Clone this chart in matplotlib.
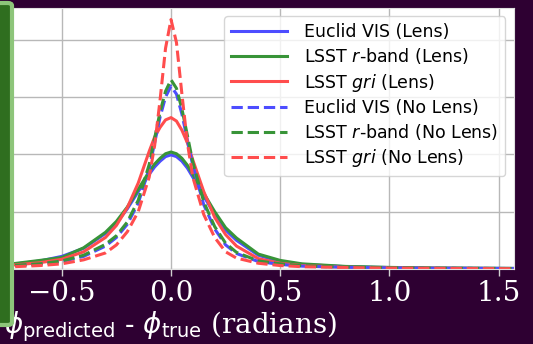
import numpy as np
import matplotlib
matplotlib.use("Agg")
import matplotlib.pyplot as plt
from matplotlib.patches import FancyBboxPatch

# angle error grid (radians) and density curves for each survey
phi_err = [-1.57, -1.2, -0.9, -0.75, -0.6, -0.5, -0.4, -0.3, -0.25, -0.2, -0.15,
           -0.1, -0.075, -0.05, -0.025, 0.0, 0.025, 0.05, 0.075, 0.1, 0.15,
           0.2, 0.25, 0.3, 0.4, 0.5, 0.6, 0.8, 1.0, 1.2, 1.57]

vis_lens = [0.0, 0.01, 0.04, 0.07, 0.14, 0.22, 0.36, 0.62, 0.80, 1.05, 1.35,
            1.65, 1.78, 1.88, 1.96, 1.99, 1.96, 1.88, 1.76, 1.60, 1.27,
            0.95, 0.68, 0.50, 0.24, 0.13, 0.08, 0.04, 0.025, 0.015, 0.01]
r_lens = [0.0, 0.012, 0.045, 0.08, 0.15, 0.20, 0.37, 0.64, 0.83, 1.08, 1.39,
          1.70, 1.83, 1.93, 2.01, 2.04, 2.01, 1.93, 1.81, 1.65, 1.32,
          1.00, 0.72, 0.54, 0.26, 0.15, 0.09, 0.045, 0.028, 0.017, 0.01]
gri_lens = [0.0, 0.008, 0.03, 0.06, 0.11, 0.17, 0.30, 0.55, 0.76, 1.07, 1.50,
            2.05, 2.30, 2.47, 2.60, 2.64, 2.58, 2.42, 2.20, 1.90, 1.35,
            0.90, 0.60, 0.40, 0.18, 0.10, 0.06, 0.03, 0.02, 0.012, 0.008]
vis_nolens = [0.0, 0.008, 0.03, 0.05, 0.08, 0.13, 0.22, 0.40, 0.55, 0.78, 1.15,
              1.75, 2.20, 2.65, 3.00, 3.19, 3.05, 2.70, 2.25, 1.80, 1.12,
              0.70, 0.42, 0.27, 0.13, 0.08, 0.05, 0.03, 0.02, 0.012, 0.008]
r_nolens = [0.0, 0.009, 0.033, 0.055, 0.09, 0.14, 0.24, 0.43, 0.58, 0.82, 1.20,
            1.82, 2.28, 2.74, 3.10, 3.30, 3.15, 2.79, 2.33, 1.86, 1.17,
            0.74, 0.45, 0.29, 0.14, 0.09, 0.055, 0.033, 0.022, 0.013, 0.009]
gri_nolens = [0.0, 0.005, 0.02, 0.035, 0.06, 0.09, 0.16, 0.28, 0.42, 0.65, 1.00,
              1.60, 2.15, 2.95, 3.85, 4.35, 3.95, 3.05, 2.20, 1.60, 0.95,
              0.55, 0.30, 0.19, 0.10, 0.06, 0.04, 0.025, 0.015, 0.01, 0.005]

labels = ["Euclid VIS (Lens)", "LSST $r$-band (Lens)", "LSST $gri$ (Lens)",
          "Euclid VIS (No Lens)", "LSST $r$-band (No Lens)", "LSST $gri$ (No Lens)"]
xticks = [-0.5, 0.0, 0.5, 1.0, 1.5]

bg = "#2e0032"
plt.rcParams["font.family"] = "DejaVu Serif"
plt.rcParams["mathtext.fontset"] = "dejavusans"

fig = plt.figure(figsize=(5.33, 3.44), dpi=100, facecolor=bg)
ax = fig.add_axes([-172 / 533, 75 / 344, 686 / 533, 261.5 / 344])
ax.set_facecolor("white")

blue = (0.30, 0.30, 1.0)
green = (0.22, 0.58, 0.22)
red = (1.0, 0.30, 0.30)
lw = 2.2

ax.plot(phi_err, vis_lens, color=blue, lw=lw, label=labels[0])
ax.plot(phi_err, r_lens, color=green, lw=lw, label=labels[1])
ax.plot(phi_err, gri_lens, color=red, lw=lw, label=labels[2])
ax.plot(phi_err, vis_nolens, "--", color=blue, lw=lw, label=labels[3])
ax.plot(phi_err, r_nolens, "--", color=green, lw=lw, label=labels[4])
ax.plot(phi_err, gri_nolens, "--", color=red, lw=lw, label=labels[5])

ax.set_xlim(-np.pi / 2, np.pi / 2)
ax.set_ylim(0, 4.56)
ax.set_xticks(xticks)
ax.set_yticks([0, 1, 2, 3, 4])
ax.set_yticklabels([])
ax.grid(True, color="#b8b8b8", lw=1)
ax.set_axisbelow(True)
for s in ax.spines.values():
    s.set_color("#e0e0e0")
ax.tick_params(axis="x", colors="#d0d0d0", labelcolor="white", labelsize=20,
               length=5, width=1, pad=3)
ax.tick_params(axis="y", length=0)

ax.set_xlabel(r"$\phi_{\rm predicted}$ - $\phi_{\rm true}$ (radians)",
              color="white", fontsize=20, labelpad=2)

leg = ax.legend(loc="upper right", prop={"family": "DejaVu Sans", "size": 12.5},
                labelspacing=0.3, handlelength=3.2, handletextpad=1.0,
                borderaxespad=0.5, framealpha=0.8, edgecolor="#cccccc")

# rounded green panel on the left edge
box = FancyBboxPatch((-10 / 533, 19 / 344), 22 / 533, 322 / 344,
                     boxstyle="round,pad=0,rounding_size=0.008",
                     transform=fig.transFigure, facecolor="#2f6e1f",
                     edgecolor="#8dc57a", lw=3)
fig.patches.append(box)

fig.savefig("out.png", dpi=100, facecolor=bg)
